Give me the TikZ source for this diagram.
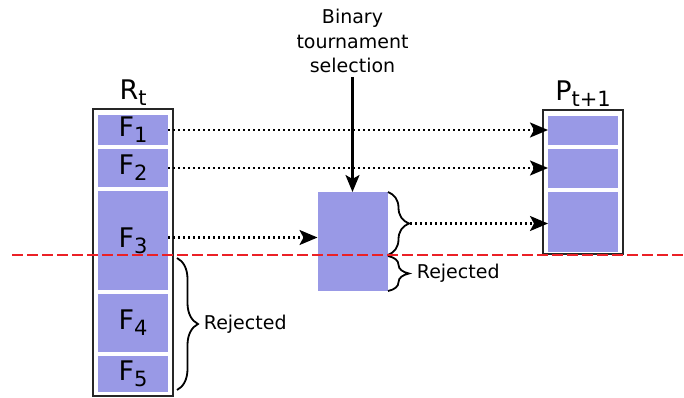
\documentclass[tikz,border=0pt]{standalone}
\usepackage{fontspec}
\setmainfont{DejaVu Sans}
\usetikzlibrary{arrows.meta, positioning, decorations.pathreplacing}
\definecolor{cellblue}{RGB}{153,153,230}
\definecolor{cutred}{RGB}{235,32,38}
\newcommand{\lowsub}[1]{\raisebox{-6pt}{\fontsize{21}{21}\selectfont #1}}

\begin{document}
\begin{tikzpicture}[
    x=1pt, y=-1pt,
    node distance=4pt,
    pop/.style={rectangle, draw=black!85, line width=2pt, minimum width=80pt, inner sep=0pt, outer sep=0pt},
    cell/.style={rectangle, fill=cellblue, minimum width=70pt, inner sep=0pt, outer sep=0pt, font=\fontsize{27}{27}\selectfont},
    title/.style={inner sep=0pt, font=\fontsize{27}{27}\selectfont},
    note/.style={inner sep=0pt, align=center, font=\fontsize{19}{24.5}\selectfont},
    flow/.style={line width=2.2pt, dash pattern=on 2.2pt off 2.8pt, -{Stealth[length=18pt, width=15pt, inset=4pt]}},
    feed/.style={line width=2.2pt, -{Stealth[length=17pt, width=14pt, inset=4pt]}},
    brace/.style={decorate, decoration={brace, amplitude=21pt}, line width=1.8pt},
    cutline/.style={draw=cutred, line width=2.2pt, dash pattern=on 11pt off 4pt}
]
    \useasboundingbox (0,0) rectangle (684,398);

    % combined population R_t, sorted into fronts
    \node[pop, minimum height=287pt] (rt) at (133,252.5) {};
    \node[title, above=3pt of rt] (rlabel) {R\lowsub{t}};
    \node[cell, minimum height=30pt, below=6pt of rt.north] (f1) {F\lowsub{1}};
    \node[cell, minimum height=38pt, below=of f1] (f2) {F\lowsub{2}};
    \node[cell, minimum height=99pt, below=of f2] (f3) {F\lowsub{3}};
    \node[cell, minimum height=58pt, below=of f3] (f4) {F\lowsub{4}};
    \node[cell, minimum height=36pt, below=of f4] (f5) {F\lowsub{5}};
    \coordinate[above=3pt of f3.east] (f3out);

    % next population P_{t+1}
    \node[pop, minimum height=144pt] (pt) at (583,182) {};
    \node[title, above=3pt of pt] (plabel) {P\lowsub{t+1}};
    \node[cell, minimum height=29pt, below=6pt of pt.north] (p1) {};
    \node[cell, minimum height=39pt, below=of p1] (p2) {};
    \node[cell, minimum height=60pt, below=of p2] (p3) {};

    % last front goes through selection
    \node[cell, minimum height=99pt] (mid) at (352.5,241.5) {};
    \node[note, anchor=south] (sel) at (352.5,73) {Binary\\tournament\\selection};
    \draw[feed, shorten <=4pt] (sel.south) -- (mid.north);

    \draw[brace] (388,192) -- (388,255) coordinate[midway, xshift=22pt] (kept);
    \draw[brace] (388,256) -- (388,291) node[note, midway, right=28pt] (rej2) {Rejected};
    \draw[brace] (177,258) -- (177,390) node[note, midway, right=26pt] (rej1) {Rejected};

    \draw[flow] (f1.east) -- (f1.east -| p1.west);
    \draw[flow] (f2.east) -- (f2.east -| p2.west);
    \draw[flow] (f3out) -- (f3out -| mid.west);
    \draw[flow] (kept) -- (kept -| p3.west);

    \draw[cutline] (12,255) -- (684,255);
\end{tikzpicture}
\end{document}
